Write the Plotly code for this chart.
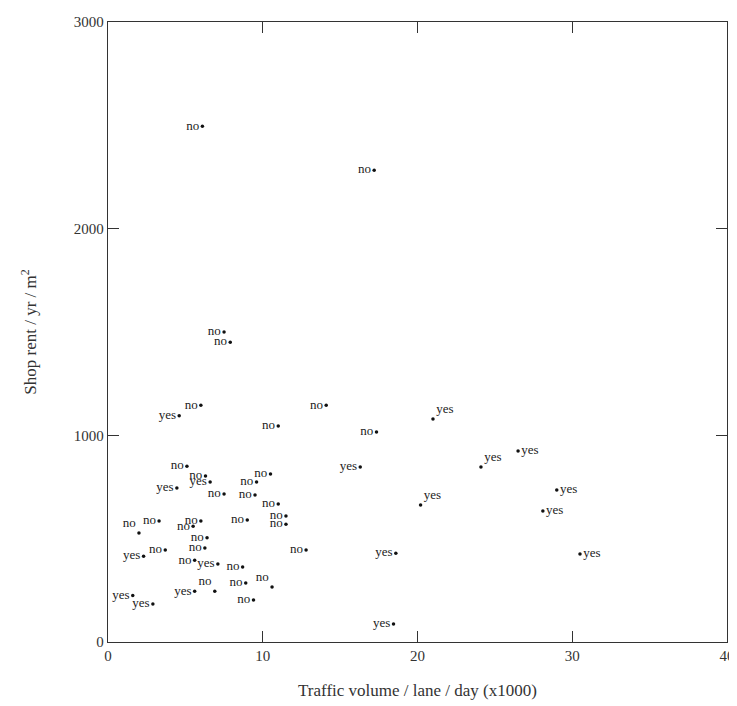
import plotly.graph_objects as go

# Traffic volume / lane / day (x1000)
traffic = [6.1, 17.2, 7.5, 7.9, 4.6, 6.0, 14.1, 11.0, 17.35, 21.0,
           16.3, 24.1, 26.5, 29.0, 28.1, 20.2, 18.6, 30.5, 18.45, 12.8,
           5.1, 6.3, 6.6, 4.45, 9.6, 10.5, 7.5, 9.5, 11.0, 9.0,
           11.5, 11.5, 2.0, 3.3, 6.0, 5.5, 6.4, 2.3, 3.7, 6.26,
           5.6, 7.1, 8.7, 5.6, 6.9, 8.9, 10.6, 9.4, 1.6, 2.9]
# Shop rent / yr / m2
rent = [2495, 2283, 1500, 1451, 1095, 1145, 1145, 1045, 1016, 1079,
        847, 847, 924, 735, 634, 663, 430, 426, 87, 445,
        851, 803, 774, 745, 774, 813, 716, 711, 668, 590,
        610, 570, 527, 585, 585, 560, 505, 415, 445, 455,
        395, 377, 363, 245, 245, 285, 266, 203, 225, 184]
# pedestrianised?
label = ["no", "no", "no", "no", "yes", "no", "no", "no", "no", "yes",
         "yes", "yes", "yes", "yes", "yes", "yes", "yes", "yes", "yes", "no",
         "no", "no", "yes", "yes", "no", "no", "no", "no", "no", "no",
         "no", "no", "no", "no", "no", "no", "no", "yes", "no", "no",
         "no", "yes", "no", "yes", "no", "no", "no", "no", "yes", "yes"]

# label placement relative to each dot
label_side = ["middle left"] * len(traffic)
for i in (9, 11, 15):
    label_side[i] = "top right"
for i in (12, 13, 14, 17):
    label_side[i] = "middle right"
for i in (32, 44, 46):
    label_side[i] = "top left"

serif = "Liberation Serif"

fig = go.Figure(go.Scatter(
    x=traffic, y=rent, text=label, mode="markers+text",
    textposition=label_side,
    textfont=dict(family=serif, size=13, color="#222"),
    marker=dict(size=3.5, color="#111"),
    cliponaxis=False, showlegend=False,
))

axis_common = dict(
    showgrid=False, zeroline=False, showline=True, linecolor="#333",
    linewidth=1.3, mirror="ticks", ticks="inside", ticklen=11,
    tickcolor="#333", tickwidth=1.2, automargin=False,
    tickfont=dict(family=serif, size=15, color="#333"),
)

fig.update_layout(
    width=737, height=706,
    margin=dict(l=100, r=18, t=14, b=72),
    paper_bgcolor="white", plot_bgcolor="white",
    xaxis=dict(range=[0, 40], tickvals=[0, 10, 20, 30, 40],
               title=dict(text="Traffic volume / lane / day (x1000)",
                          font=dict(family=serif, size=17, color="#333"),
                          standoff=20),
               **axis_common),
    yaxis=dict(range=[0, 3000], tickvals=[0, 1000, 2000, 3000],
               title=dict(text="Shop rent / yr / m<sup>2</sup>",
                          font=dict(family=serif, size=17, color="#333"),
                          standoff=32),
               **axis_common),
)

fig.write_html("out.html")
